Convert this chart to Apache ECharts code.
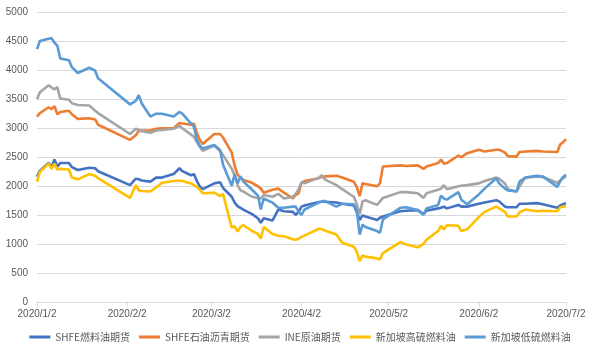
<!DOCTYPE html>
<html><head><meta charset="utf-8">
<script src="https://cdn.jsdelivr.net/npm/echarts@6/dist/echarts.min.js"></script>
<style>html,body{margin:0;padding:0;background:#fff}#c{width:600px;height:354px}</style>
</head><body><div id="c"></div>
<script>
// trading dates (subset)
var dates = [
 '2020-01-02','2020-01-03','2020-01-06','2020-01-07','2020-01-08','2020-01-09','2020-01-10','2020-01-13','2020-01-14','2020-01-16','2020-01-20','2020-01-22','2020-01-23',
 '2020-02-03','2020-02-05','2020-02-06','2020-02-07','2020-02-10','2020-02-12','2020-02-14','2020-02-18','2020-02-20','2020-02-21','2020-02-24','2020-02-25','2020-02-26','2020-02-27','2020-02-28',
 '2020-03-03','2020-03-05','2020-03-06','2020-03-09','2020-03-10','2020-03-11','2020-03-12','2020-03-13','2020-03-16','2020-03-18','2020-03-19','2020-03-20','2020-03-23','2020-03-25','2020-03-27','2020-03-30','2020-03-31',
 '2020-04-01','2020-04-02','2020-04-03','2020-04-08','2020-04-09','2020-04-10','2020-04-14','2020-04-16','2020-04-20','2020-04-21','2020-04-22','2020-04-23','2020-04-24','2020-04-28','2020-04-29','2020-04-30',
 '2020-05-06','2020-05-08','2020-05-12','2020-05-14','2020-05-15','2020-05-19','2020-05-20','2020-05-21','2020-05-22','2020-05-26','2020-05-27','2020-05-29',
 '2020-06-02','2020-06-04','2020-06-08','2020-06-09','2020-06-11','2020-06-12','2020-06-15','2020-06-16','2020-06-18','2020-06-22','2020-06-24','2020-06-29','2020-06-30',
 '2020-07-01','2020-07-02'
];
var shfeFuel = [
 2165,2270,2400,2330,2460,2340,2400,2400,2330,2280,2320,2310,2260,
 2020,2130,2120,2100,2080,2150,2150,2210,2310,2260,2190,2210,2090,2000,1950,
 2050,2070,1970,1820,1720,1660,1630,1600,1520,1450,1370,1450,1410,1600,1570,1560,1510,
 1560,1650,1670,1730,1735,1735,1720,1700,1670,1560,1420,1500,1480,1420,1460,1480,
 1570,1580,1590,1520,1580,1620,1630,1650,1620,1680,1650,1650,
 1700,1720,1760,1740,1650,1640,1640,1700,1700,1710,1690,1630,1670,
 1690,1710
];
var shfeAsphalt = [
 3200,3260,3360,3330,3380,3240,3280,3300,3240,3160,3170,3150,3060,
 2800,2880,2950,2960,2960,2990,3000,3000,3090,3080,3060,3080,2920,2800,2730,
 2900,2900,2840,2580,2350,2200,2150,2110,2060,2000,1960,1890,1940,1960,1890,1790,1850,
 1880,2060,2090,2140,2160,2170,2180,2150,2080,1990,1830,2050,2040,2000,2050,2340,
 2360,2350,2360,2300,2340,2400,2460,2390,2400,2530,2500,2570,
 2630,2600,2630,2630,2580,2520,2510,2590,2600,2610,2600,2590,2720,
 2760,2810
];
var ineCrude = [
 3500,3620,3740,3700,3670,3710,3510,3490,3430,3400,3390,3300,3260,
 2900,2990,2970,2950,2920,2960,2970,2990,3040,3000,2890,2850,2760,2680,2610,
 2700,2600,2540,2300,2180,2020,1930,1910,1820,1800,1790,1850,1820,1870,1790,1820,1870,
 1950,2070,2050,2150,2190,2120,2020,1950,1820,1700,1520,1740,1760,1680,1740,1800,
 1900,1900,1880,1800,1880,1940,1960,2020,1950,2000,2010,2020,
 2050,2090,2150,2130,2050,1950,1910,2000,2150,2170,2160,2060,2100,
 2140,2170
];
var sgHighSulfur = [
 2080,2250,2390,2300,2390,2290,2300,2290,2150,2120,2210,2180,2140,
 1800,2020,1930,1920,1910,1980,2060,2090,2100,2090,2050,2020,1990,1940,1880,
 1890,1830,1870,1290,1310,1220,1300,1330,1230,1180,1100,1300,1180,1150,1140,1090,1080,
 1100,1130,1150,1270,1260,1240,1170,1030,960,880,710,810,790,760,740,850,
 1040,1000,950,1010,1080,1230,1320,1260,1330,1320,1230,1260,
 1470,1560,1650,1620,1560,1480,1480,1550,1600,1570,1580,1570,1640,
 1650,1660
];
var sgLowSulfur = [
 4360,4500,4540,4550,4470,4420,4200,4170,4050,3950,4040,3990,3860,
 3410,3470,3570,3430,3200,3250,3250,3200,3280,3250,3080,3020,2800,2700,2650,
 2710,2625,2370,2010,2210,2050,2170,2080,1940,1840,1600,1790,1720,1630,1630,1650,1650,
 1560,1510,1600,1720,1740,1750,1650,1700,1690,1590,1170,1340,1300,1230,1200,1430,
 1630,1640,1590,1510,1620,1680,1840,1790,1770,1900,1770,1690,
 1860,1960,2140,2050,1960,1930,1910,2080,2150,2180,2170,1990,2090,
 2160,2200
];
var seriesNames = ['SHFE燃料油期货','SHFE石油沥青期货','INE原油期货','新加坡高硫燃料油','新加坡低硫燃料油'];
var seriesColors = ['#4472C4','#ED7D31','#A5A5A5','#FFC000','#5B9BD5'];
var tickDates = ['2020-01-02','2020-02-02','2020-03-02','2020-04-02','2020-05-02','2020-06-02','2020-07-02'];
var tickLabels = ['2020/1/2','2020/2/2','2020/3/2','2020/4/2','2020/5/2','2020/6/2','2020/7/2'];

function ts(s){var p=s.split('-');return Date.UTC(+p[0],+p[1]-1,+p[2]);}
var tickTs = tickDates.map(ts);
var allSeries = [shfeFuel, shfeAsphalt, ineCrude, sgHighSulfur, sgLowSulfur];

var chart = echarts.init(document.getElementById('c'), null, {renderer:'canvas'});
var font = 'Liberation Sans, Arial, sans-serif';
chart.setOption({
  animation:false,
  grid:{left:37, right:34, top:12, bottom:51.5, containLabel:false},
  legend:{
    bottom:7, left:'center', itemWidth:21, itemHeight:3, itemGap:9, icon:'rect',
    textStyle:{color:'#595959', fontSize:10, fontFamily:'"Noto Sans CJK SC", sans-serif'},
    data:seriesNames
  },
  xAxis:{
    type:'value', min:tickTs[0], max:tickTs[tickTs.length-1],
    axisLine:{show:true, lineStyle:{color:'#d9d9d9'}},
    axisTick:{show:true, length:4, lineStyle:{color:'#d9d9d9'}, customValues:tickTs},
    axisLabel:{color:'#595959', fontSize:10, fontFamily:font, margin:7, customValues:tickTs,
      showMinLabel:true, showMaxLabel:true, hideOverlap:false,
      formatter:function(v){var i=tickTs.indexOf(v);return i>=0?tickLabels[i]:'';}},
    splitLine:{show:false}
  },
  yAxis:{
    type:'value', min:0, max:5000, interval:500,
    axisLine:{show:false}, axisTick:{show:false},
    axisLabel:{color:'#595959', fontSize:10, fontFamily:font, margin:9,
      formatter:function(v){return String(v);}},
    splitLine:{lineStyle:{color:'#d9d9d9', width:1}}
  },
  series: seriesNames.map(function(n,k){
    return {name:n, type:'line', showSymbol:false, symbol:'none',
      color:seriesColors[k], lineStyle:{width:2.6, color:seriesColors[k]},
      data: dates.map(function(d,i){return [ts(d), allSeries[k][i]];})};
  })
});
</script></body></html>
